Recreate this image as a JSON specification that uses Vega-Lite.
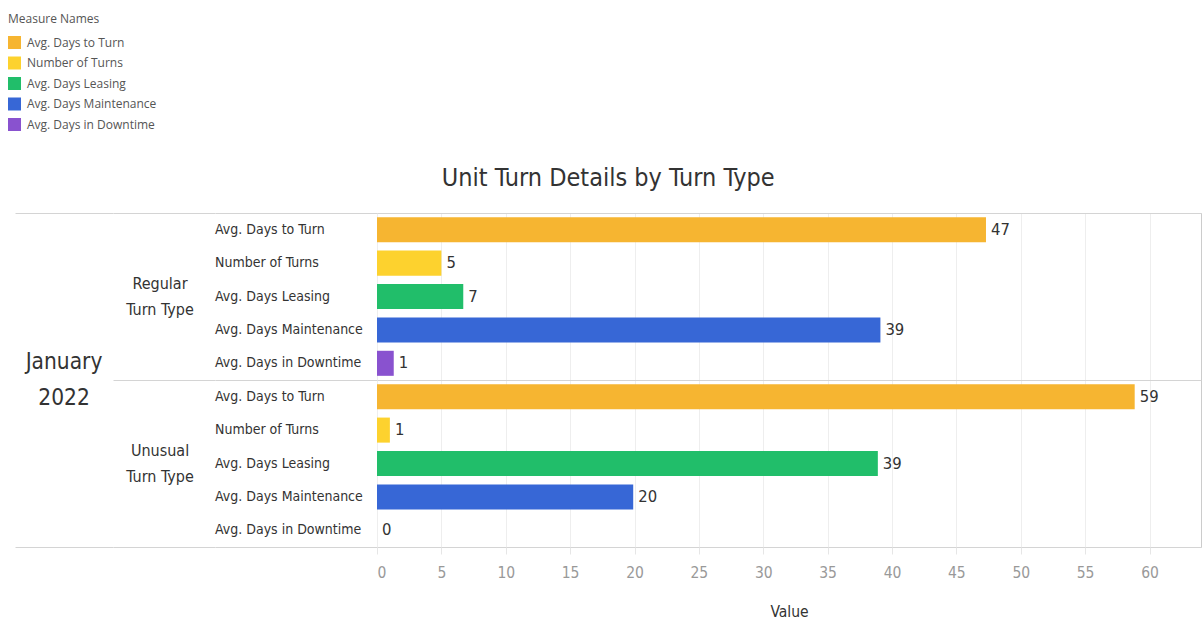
{
  "$schema": "https://vega.github.io/schema/vega-lite/v6.json",
  "autosize": "pad",
  "padding": {"left": 8, "top": 14, "right": 2, "bottom": 2},
  "background": "white",
  "config": {
    "font": "DejaVu Sans Condensed, Roboto",
    "view": {"stroke": null},
    "axis": {"labelFont": "DejaVu Sans Condensed, Roboto", "titleFont": "DejaVu Sans Condensed, Roboto"}
  },
  "data": {
    "values": [
      {"month": "January 2022", "turnType": "Regular\nTurn Type", "measure": "Avg. Days to Turn", "value": 47.3},
      {"month": "January 2022", "turnType": "Regular\nTurn Type", "measure": "Number of Turns", "value": 5},
      {"month": "January 2022", "turnType": "Regular\nTurn Type", "measure": "Avg. Days Leasing", "value": 6.7},
      {"month": "January 2022", "turnType": "Regular\nTurn Type", "measure": "Avg. Days Maintenance", "value": 39.1},
      {"month": "January 2022", "turnType": "Regular\nTurn Type", "measure": "Avg. Days in Downtime", "value": 1.3},
      {"month": "January 2022", "turnType": "Unusual\nTurn Type", "measure": "Avg. Days to Turn", "value": 58.85},
      {"month": "January 2022", "turnType": "Unusual\nTurn Type", "measure": "Number of Turns", "value": 1},
      {"month": "January 2022", "turnType": "Unusual\nTurn Type", "measure": "Avg. Days Leasing", "value": 38.9},
      {"month": "January 2022", "turnType": "Unusual\nTurn Type", "measure": "Avg. Days Maintenance", "value": 19.9},
      {"month": "January 2022", "turnType": "Unusual\nTurn Type", "measure": "Avg. Days in Downtime", "value": 0}
    ]
  },
  "vconcat": [
    {
      "title": {
        "text": "Unit Turn Details by Turn Type",
        "anchor": "middle",
        "fontSize": 25,
        "fontWeight": "normal",
        "color": "#333333",
        "font": "DejaVu Sans Condensed, Roboto",
        "baseline": "alphabetic",
        "offset": 2
      },
      "spacing": 0,
      "bounds": "flush",
      "hconcat": [
        {
          "width": 98,
          "height": 334,
          "transform": [{"aggregate": [{"op": "count", "as": "n"}], "groupby": ["month"]}],
          "mark": {"type": "text", "fontSize": 22.5, "lineBreak": " ", "lineHeight": 36, "color": "#333333", "baseline": "middle", "dy": -18},
          "encoding": {
            "y": {
              "field": "month", "type": "nominal",
              "scale": {"paddingInner": 0, "paddingOuter": 0},
              "axis": {"title": null, "labels": false, "ticks": false, "domain": false, "grid": true, "tickBand": "extent", "gridColor": "#d4d4d4"}
            },
            "text": {"field": "month"}
          }
        },
        {
          "width": 102,
          "height": 334,
          "transform": [{"aggregate": [{"op": "count", "as": "n"}], "groupby": ["turnType"]}],
          "mark": {"type": "text", "fontSize": 16, "lineBreak": "\n", "lineHeight": 26, "color": "#333333", "baseline": "middle", "dx": -4, "dy": -13},
          "encoding": {
            "y": {
              "field": "turnType", "type": "nominal",
              "scale": {"paddingInner": 0, "paddingOuter": 0},
              "axis": {"title": null, "labels": false, "ticks": false, "domain": false, "grid": true, "tickBand": "extent", "gridColor": "#d4d4d4"}
            },
            "text": {"field": "turnType"}
          }
        },
        {
          "width": 162,
          "height": 334,
          "mark": {"type": "text", "align": "left", "dx": -81, "fontSize": 14, "color": "#333333", "baseline": "middle"},
          "encoding": {
            "y": {
              "field": "turnType", "type": "nominal",
              "scale": {"paddingInner": 0, "paddingOuter": 0},
              "axis": {"title": null, "labels": false, "ticks": false, "domain": false, "grid": true, "tickBand": "extent", "gridColor": "#d4d4d4"}
            },
            "yOffset": {
              "field": "measure", "type": "nominal",
              "sort": ["Avg. Days to Turn", "Number of Turns", "Avg. Days Leasing", "Avg. Days Maintenance", "Avg. Days in Downtime"],
              "scale": {"paddingInner": 0.25, "paddingOuter": 0.125}
            },
            "text": {"field": "measure"}
          }
        },
        {
          "width": 824,
          "height": 334,
          "view": {"stroke": "#cccccc"},
          "encoding": {
            "y": {
              "field": "turnType", "type": "nominal",
              "scale": {"paddingInner": 0, "paddingOuter": 0},
              "axis": {"title": null, "labels": false, "ticks": false, "domain": false, "grid": true, "tickBand": "extent", "gridColor": "#d4d4d4"}
            },
            "yOffset": {
              "field": "measure", "type": "nominal",
              "sort": ["Avg. Days to Turn", "Number of Turns", "Avg. Days Leasing", "Avg. Days Maintenance", "Avg. Days in Downtime"],
              "scale": {"paddingInner": 0.25, "paddingOuter": 0.125}
            },
            "x": {
              "field": "value", "type": "quantitative",
              "scale": {"domain": [0, 64], "nice": false},
              "axis": {
                "values": [0, 5, 10, 15, 20, 25, 30, 35, 40, 45, 50, 55, 60],
                "title": "Value", "titleFontSize": 15.5, "titleColor": "#333333", "titleFontWeight": "normal", "titlePadding": 24,
                "labelFontSize": 15.5, "labelColor": "#999999", "labelPadding": 11, "labelFlush": true,
                "ticks": true, "tickColor": "#e6e6e6", "tickSize": 7,
                "domain": false, "grid": true, "gridColor": "#eeeeee"
              }
            }
          },
          "layer": [
            {
              "mark": {"type": "bar"},
              "encoding": {
                "color": {
                  "field": "measure", "type": "nominal",
                  "scale": {
                    "domain": ["Avg. Days to Turn", "Number of Turns", "Avg. Days Leasing", "Avg. Days Maintenance", "Avg. Days in Downtime"],
                    "range": ["#F6B531", "#FDD22E", "#21BE6A", "#3767D6", "#8952CF"]
                  },
                  "legend": {
                    "orient": "none", "legendX": -7, "legendY": -199,
                    "title": "Measure Names",
                    "titleFont": "Open Sans", "titleFontSize": 12, "titleFontWeight": "normal", "titleColor": "#555555", "titlePadding": 10,
                    "labelFont": "Open Sans", "labelFontSize": 12, "labelColor": "#555555",
                    "symbolType": "square", "symbolSize": 169, "symbolStrokeWidth": 0, "symbolOpacity": 1,
                    "rowPadding": 7.5, "labelOffset": 6, "padding": 0
                  }
                }
              }
            },
            {
              "mark": {"type": "text", "align": "left", "dx": 5, "fontSize": 16.5, "color": "#333333", "baseline": "middle"},
              "encoding": {"text": {"field": "value", "type": "quantitative", "format": ".0f"}}
            }
          ]
        }
      ]
    }
  ]
}
